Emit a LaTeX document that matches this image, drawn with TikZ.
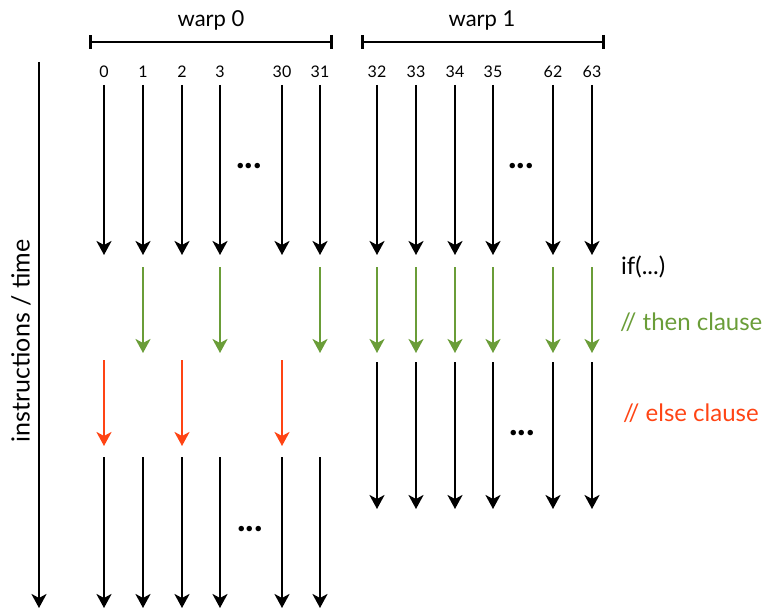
\documentclass[tikz,border=0pt]{standalone}
\usepackage{fontspec}
\setmainfont{Lato}
\usetikzlibrary{arrows.meta}
\definecolor{thengreen}{RGB}{106,157,56}
\definecolor{elsered}{RGB}{255,68,20}
\begin{document}
\begin{tikzpicture}[x=1pt,y=-1pt,
  flow/.style={line width=2.8pt,-{Stealth[length=14pt,width=15pt,inset=4pt]}},
  bracket/.style={line width=2.8pt,{Bar[width=14pt]}-{Bar[width=14pt]}},
  num/.style={font=\fontsize{16}{18}\selectfont,inner sep=0pt},
  title/.style={font=\fontsize{22}{26}\selectfont,inner sep=0pt},
  clause/.style={font=\fontsize{24}{28}\selectfont,inner sep=0pt,anchor=west},
  dots/.style={font=\fontsize{36}{40}\selectfont\bfseries,inner sep=0pt,anchor=base}]
\useasboundingbox (0,0) rectangle (769,610);

% brackets and titles
\coordinate (w0l) at (89,42); \coordinate (w0r) at (333,42);
\coordinate (w1l) at (361,42); \coordinate (w1r) at (605,42);
\draw[bracket] (w0l) -- (w0r);
\draw[bracket] (w1l) -- (w1r);
\node[title] (warp0) at (211,20) {warp 0};
\node[title] (warp1) at (482,20) {warp 1};

% time axis
\coordinate (ts) at (39,62); \coordinate (te) at (39,608);
\draw[flow] (ts) -- (te);
\node[font=\fontsize{25}{30}\selectfont,rotate=90,inner sep=0pt] (timelabel) at (21,341) {instructions / time};

% warp 0 columns
\foreach \x/\l/\n in {104/0/a,143/1/b,182/2/c,220/3/d,282/30/e,320/31/f}{
  \node[num] (lab\n) at (\x,72) {\l};
  \coordinate (s\n) at (\x,85); \coordinate (e\n) at (\x,255);
  \draw[flow] (s\n) -- (e\n);
  \coordinate (bs\n) at (\x,457); \coordinate (be\n) at (\x,608);
  \draw[flow] (bs\n) -- (be\n);
}
% then (green) in warp 0
\foreach \x/\n in {143/b,220/d,320/f}{
  \coordinate (gs\n) at (\x,267); \coordinate (ge\n) at (\x,353);
  \draw[flow,thengreen] (gs\n) -- (ge\n);
}
% else (red) in warp 0
\foreach \x/\n in {104/a,182/c,282/e}{
  \coordinate (rs\n) at (\x,360); \coordinate (re\n) at (\x,446);
  \draw[flow,elsered] (rs\n) -- (re\n);
}

% warp 1 columns
\foreach \x/\l/\n in {377/32/g,416/33/h,455/34/i,493/35/j,553/62/k,592/63/l}{
  \node[num] (lab\n) at (\x,72) {\l};
  \coordinate (s\n) at (\x,85); \coordinate (e\n) at (\x,255);
  \draw[flow] (s\n) -- (e\n);
  \coordinate (gs\n) at (\x,267); \coordinate (ge\n) at (\x,353);
  \draw[flow,thengreen] (gs\n) -- (ge\n);
  \coordinate (ls\n) at (\x,362); \coordinate (le\n) at (\x,509);
  \draw[flow] (ls\n) -- (le\n);
}

% dots
\node[dots] (d1) at (249,168) {...};
\node[dots] (d2) at (521,168) {...};
\node[dots] (d3) at (250,531) {...};
\node[dots] (d4) at (522,435) {...};

% clause labels
\node[clause] (iflab) at (621,267) {if(...)};
\node[clause,text=thengreen] (thenlab) at (620,322) {// then clause};
\node[clause,text=elsered] (elselab) at (623,413) {// else clause};
\end{tikzpicture}
\end{document}
